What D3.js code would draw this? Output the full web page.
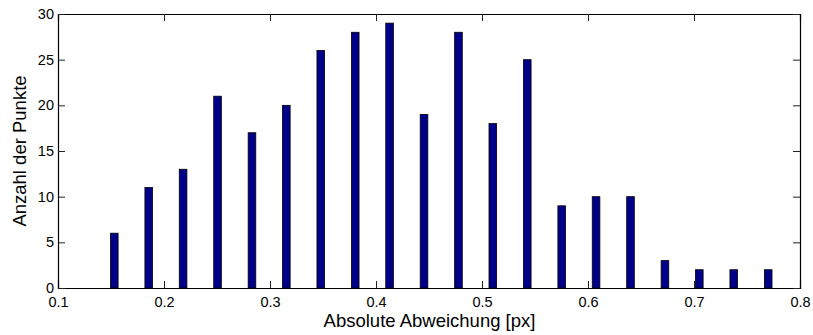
<!DOCTYPE html>
<html>
<head>
<meta charset="utf-8">
<script src="https://cdn.jsdelivr.net/npm/d3@7"></script>
<style>
  html, body { margin: 0; padding: 0; background: #fff; }
  svg { display: block; font-family: "Liberation Sans", Arial, Helvetica, sans-serif; }
</style>
</head>
<body>
<svg id="chart" width="813" height="335"></svg>
<script>
// Histogram of absolute deviations: bin centres and counts
const binCenters = [0.1531, 0.1856, 0.2180, 0.2505, 0.2830, 0.3154, 0.3479, 0.3804, 0.4128, 0.4453,
                    0.4778, 0.5102, 0.5427, 0.5752, 0.6076, 0.6401, 0.6726, 0.7050, 0.7375, 0.7700];
const counts = [6, 11, 13, 21, 17, 20, 26, 28, 29, 19, 28, 18, 25, 9, 10, 10, 3, 2, 2, 2];
const xTicks = [0.1, 0.2, 0.3, 0.4, 0.5, 0.6, 0.7, 0.8];
const yTicks = [0, 5, 10, 15, 20, 25, 30];
const xLabel = "Absolute Abweichung [px]";
const yLabel = "Anzahl der Punkte";
const barWidthData = 0.0072;

const svg = d3.select("#chart");
const plotLeft = 58, plotRight = 800, plotTop = 14, plotBottom = 288;

const x = d3.scaleLinear().domain([0.1, 0.8]).range([plotLeft, plotRight]);
const y = d3.scaleLinear().domain([0, 30]).range([plotBottom, plotTop]);

// bars
svg.append("g").selectAll("rect")
  .data(binCenters.map((c, i) => ({ c, v: counts[i] })))
  .join("rect")
  .attr("x", d => x(d.c - barWidthData / 2))
  .attr("width", d => x(d.c + barWidthData / 2) - x(d.c - barWidthData / 2))
  .attr("y", d => y(d.v))
  .attr("height", d => y(0) - y(d.v))
  .attr("fill", "#000088")
  .attr("stroke", "#000")
  .attr("stroke-width", 0.8);

const tickLen = 7;
const fmt = d3.format(".1f");

// bottom axis (ticks pointing inward), labels below
const gx = svg.append("g").attr("transform", `translate(0,${plotBottom})`)
  .call(d3.axisBottom(x).tickValues(xTicks).tickSize(-tickLen).tickPadding(9).tickFormat(fmt));
// top axis ticks
const gxt = svg.append("g").attr("transform", `translate(0,${plotTop})`)
  .call(d3.axisTop(x).tickValues(xTicks).tickSize(-tickLen).tickFormat(""));
// left axis
const gy = svg.append("g").attr("transform", `translate(${plotLeft},0)`)
  .call(d3.axisLeft(y).tickValues(yTicks).tickSize(-tickLen).tickPadding(4).tickFormat(d3.format("d")));
// right axis ticks
const gyr = svg.append("g").attr("transform", `translate(${plotRight},0)`)
  .call(d3.axisRight(y).tickValues(yTicks).tickSize(-tickLen).tickFormat(""));

[gx, gxt, gy, gyr].forEach(g => {
  g.select(".domain").attr("stroke", "#000").attr("stroke-width", 1.2);
  g.selectAll(".tick line").attr("stroke", "#222").attr("stroke-width", 1);
  g.selectAll(".tick text").attr("fill", "#000").style("font-size", "14.5px")
    .style("font-family", "'Liberation Sans', Arial, Helvetica, sans-serif");
});

// axis titles
svg.append("text")
  .attr("x", (plotLeft + plotRight) / 2 + 0.5)
  .attr("y", 327)
  .attr("text-anchor", "middle")
  .style("font-size", "18.5px")
  .text(xLabel);

svg.append("text")
  .attr("transform", `translate(26,${(plotTop + plotBottom) / 2}) rotate(-90)`)
  .attr("text-anchor", "middle")
  .style("font-size", "18.5px")
  .text(yLabel);
</script>
</body>
</html>
